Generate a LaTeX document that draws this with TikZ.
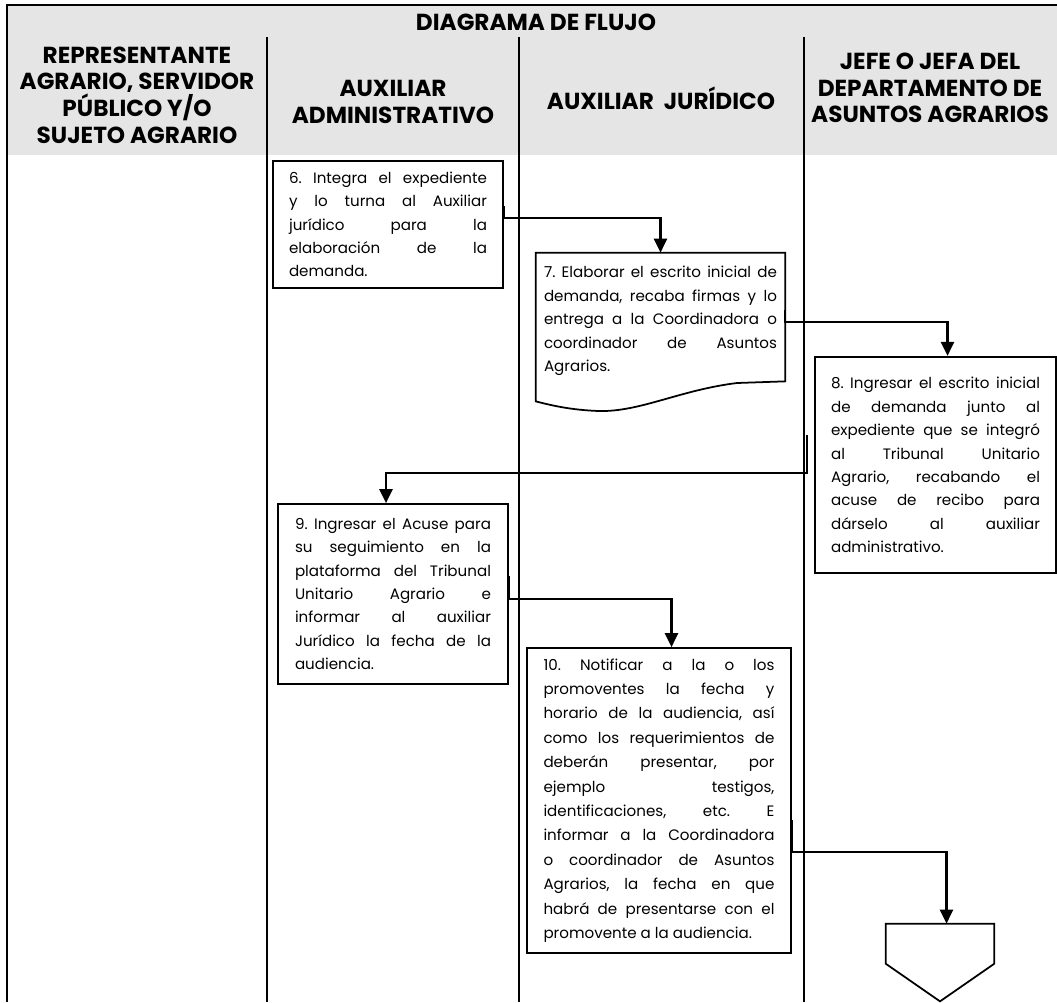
\documentclass[tikz,border=0pt]{standalone}
\usepackage{fontspec}
\setmainfont{Poppins}
\usetikzlibrary{arrows.meta,positioning,calc}
\definecolor{headgray}{rgb}{0.90,0.90,0.90}
\tikzset{
  head/.style={align=center, inner sep=0pt, font=\fontsize{13.2}{15.2}\selectfont\bfseries},
  lane/.style={draw=black, line width=0.6pt},
  stepbox/.style={draw=black, line width=1pt, fill=white, align=justify, inner ysep=4pt,
                  font=\fontsize{8.6}{13.3}\selectfont},
  docbox/.style={align=justify, inner ysep=4pt, font=\fontsize{8.6}{13.3}\selectfont},
  docline/.style={draw=black, line width=1pt, fill=white},
  flow/.style={-{Triangle[length=2.8mm, width=2.6mm]}, line width=1.3pt, draw=black},
}
\hyphenpenalty=10000
\tolerance=10000
\frenchspacing

\begin{document}
\begin{tikzpicture}[x=0.02cm, y=-0.02cm]
  \useasboundingbox (0,0) rectangle (1057,1002);
  % header band and swimlanes
  \fill[headgray] (7,5) rectangle (1057,155);
  \draw[lane] (1057,5) -- (7,5) -- (7,1002);
  \draw[lane] (267,37) -- (267,1002);
  \draw[lane] (519,37) -- (519,1002);
  \draw[lane] (804,37) -- (804,1002);
  \node[head] (title) at (536,22) {DIAGRAMA DE FLUJO};
  \node[head] (h1) at (137,95) {REPRESENTANTE\\AGRARIO, SERVIDOR\\PÚBLICO Y/O\\SUJETO AGRARIO};
  \node[head] (h2) at (393,102) {AUXILIAR\\ADMINISTRATIVO};
  \node[head] (h3) at (661,98) {AUXILIAR~~JURÍDICO};
  \node[head] (h4) at (930,88) {JEFE O JEFA DEL\\DEPARTAMENTO DE\\ASUNTOS AGRARIOS};
  % steps
  \node[stepbox, text width=3.96cm, inner xsep=0.32cm, minimum height=2.54cm] (b6) at (388,224.5)
    {6. Integra el expediente\linebreak y lo turna al Auxiliar\linebreak jurídico para la\linebreak
     elaboración de la\linebreak demanda.};
  \node[docbox, text width=4.66cm, inner xsep=0.16cm, minimum height=2.72cm] (b7) at (660.5,321) {};
  \draw[docline] (b7.south west) -- (b7.north west) -- (b7.north east)
    -- ($(b7.south east)+(0,-8)$) -- (737,383) .. controls (680,390) and (640,412) .. (599,411)
    .. controls (570,410) and (550,405) .. ($(b7.south west)+(0,12)$) -- cycle;
  \node[docbox, text width=4.66cm, inner xsep=0.16cm, minimum height=2.72cm] (t7) at (b7)
    {7. Elaborar el escrito inicial de\linebreak demanda, recaba firmas y lo\linebreak
     entrega a la Coordinadora o\linebreak coordinador de Asuntos\linebreak Agrarios.};
  \node[stepbox, text width=4.18cm, inner xsep=0.32cm, minimum height=4.33cm] (b8) at (935.5,465)
    {8. Ingresar el escrito inicial\linebreak de demanda junto al\linebreak
     expediente que se integró\linebreak al Tribunal Unitario\linebreak
     Agrario, recabando el\linebreak acuse de recibo para\linebreak
     dárselo al auxiliar\linebreak administrativo.};
  \node[stepbox, text width=3.92cm, inner xsep=0.34cm, minimum height=3.6cm] (b9) at (393,594)
    {9. Ingresar el Acuse para\linebreak su seguimiento en la\linebreak
     plataforma del Tribunal\linebreak Unitario Agrario e\linebreak
     informar al auxiliar\linebreak Jurídico la fecha de la\linebreak audiencia.};
  \node[stepbox, text width=4.62cm, inner xsep=0.33cm, minimum height=6.1cm,
        font=\fontsize{8.6}{13.9}\selectfont] (b10) at (659,800.5)
    {10. Notificar a la o los\linebreak promoventes la fecha y\linebreak
     horario de la audiencia, así\linebreak como los requerimientos de\linebreak
     deberán presentar, por\linebreak ejemplo testigos,\linebreak
     identificaciones, etc. E\linebreak informar a la Coordinadora\linebreak
     o coordinador de Asuntos\linebreak Agrarios, la fecha en que\linebreak
     habrá de presentarse con el\linebreak promovente a la audiencia.};
  % off-page connector
  \node[inner sep=0pt, minimum width=2.16cm, minimum height=1.54cm] (off) at (940,962.5) {};
  \draw[docline] (off.north west) -- (off.north east) -- ($(off.north east)+(0,40)$)
    -- (off.south) -- ($(off.north west)+(0,40)$) -- cycle;
  % connectors
  \draw[flow] ($(b6.east)+(0,-18.5)$) -- ++(0,12) -| (b7.north);
  \draw[flow] ($(b7.east)+(0,-11)$) -- ++(0,12) -| ($(b8.north)+(12,0)$);
  \draw[flow] ($(b8.west)+(-7,-30)$) -- ++(0,38) -| ($(b9.north)+(-7,0)$);
  \draw[flow] ($(b9.east)+(0,-18)$) -- ++(0,23) -| ($(b10.north)+(12.5,0)$);
  \draw[flow] ($(b10.east)+(0,19.5)$) -- ++(0,32) -| ($(off.north)+(6.5,0)$);
\end{tikzpicture}
\end{document}
